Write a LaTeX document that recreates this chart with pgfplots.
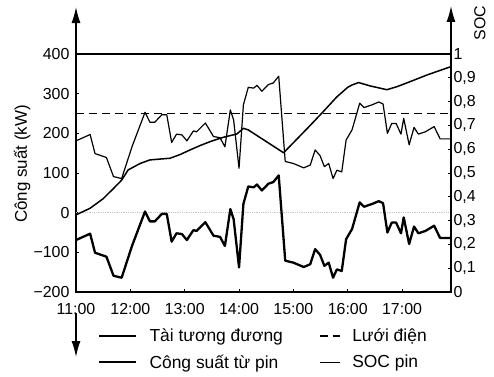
\documentclass[border=0pt]{standalone}
\usepackage{pgfplots}
\pgfplotsset{compat=1.18}
\usepackage{pgfplotstable}
\usepackage{fontspec}
\setmainfont{Liberation Sans}
\usetikzlibrary{arrows.meta}

% time (h), battery power (kW), equivalent load (kW)
\pgfplotstableread{
t      bat   load
11.00  -69   181
11.26  -53   197
11.35  -101  149
11.56  -111  139
11.69  -159  91
11.84  -164  86
12.03  -84   166
12.27  3     253
12.36  -22   228
12.45  -22   228
12.58  -3    247
12.67  -3    247
12.76  -73   177
12.85  -52   198
12.95  -54   196
13.04  -69   181
13.16  -44   206
13.22  -46   204
13.38  -24   226
13.53  -58   192
13.65  -61   189
13.74  -84   166
13.84  9     259
13.90  -16   234
14.00  -138  112
14.08  22    272
14.17  66    316
14.27  64    314
14.33  71    321
14.42  56    306
14.54  73    323
14.63  77    327
14.73  94    344
14.85  -121  129
15.00  -126  124
15.19  -137  113
15.31  -130  120
15.40  -92   158
15.49  -106  144
15.57  -134  116
15.65  -126  124
15.73  -164  86
15.80  -143  107
15.89  -147  103
15.97  -67   183
16.08  -41   209
16.22  26    276
16.30  15    265
16.45  22    272
16.57  29    279
16.65  24    274
16.73  -50   200
16.81  -25   225
16.89  -25   225
16.98  -52   198
17.03  -12   238
17.13  -79   171
17.22  -35   215
17.30  -52   198
17.43  -46   204
17.59  -33   217
17.70  -64   186
17.90  -64   186
}\powertab

% time (h), battery state of charge
\pgfplotstableread{
t      soc
11.00  0.324
11.26  0.352
11.50  0.392
11.69  0.435
11.84  0.470
11.96  0.513
12.18  0.540
12.36  0.555
12.73  0.562
12.92  0.578
13.10  0.597
13.28  0.615
13.47  0.632
13.71  0.650
13.96  0.664
14.08  0.688
14.17  0.681
14.82  0.585
15.31  0.700
15.55  0.758
15.80  0.820
16.00  0.860
16.08  0.870
16.20  0.880
16.41  0.866
16.72  0.850
16.91  0.863
17.15  0.884
17.46  0.912
17.90  0.947
}\soctab

\pgfplotsset{
  frame/.style={
    at={(0,0)}, anchor=south west,
    scale only axis, width=375bp, height=238bp,
    xmin=11, xmax=17.9,
    clip=false,
    tick align=inside, major tick length=3bp,
    axis line style={line width=1.3bp},
    tick style={line width=0.8bp, black},
    ticklabel style={font=\fontsize{16}{16}\selectfont},
  },
  longimg/.style={legend image code/.code={\draw[##1] (0bp,0bp) -- (37bp,0bp);}},
  shortimg/.style={legend image code/.code={\draw[##1] (0bp,0bp) -- (20bp,0bp);}},
}

\begin{document}
\begin{tikzpicture}
\path[use as bounding box] (-76bp,-85bp) rectangle (418bp,292bp);

\begin{axis}[
  frame,
  ymin=-200, ymax=400,
  xtick={11,12,...,17},
  xticklabels={11:00,12:00,13:00,14:00,15:00,16:00,17:00},
  ytick={-200,-100,0,100,200,300,400},
  yticklabels={−200,−100,0,100,200,300,400},
  xtick pos=bottom, ytick pos=left,
  xticklabel style={yshift=-8bp},
  yticklabel style={xshift=-3bp},
  legend columns=2,
  legend cell align=left,
  legend style={
    draw=none, fill=none,
    at={(rel axis cs:0.0587,-0.154)}, anchor=north west,
    font=\fontsize{17.5}{17.5}\selectfont,
    inner sep=0pt, row sep=11.5bp,
    nodes={inner sep=0pt},
    /tikz/every odd column/.style={column sep=12bp},
    /tikz/every even column/.style={column sep=36bp},
  },
]
  % faint zero reference
  \addplot[forget plot, gray!45, densely dotted, line width=0.8bp]
    coordinates {(11,0) (17.9,0)};

  \addplot[black, line width=1.2bp, line join=round, longimg]
    table[x=t, y=load] {\powertab};
  \addlegendentry{Tài tương đương}

  \addplot[black, line width=1.3bp, dash pattern=on 8bp off 5bp, shortimg]
    coordinates {(11,250) (17.9,250)};
  \addlegendentry{Lưới điện}

  \addplot[black, line width=2.3bp, line join=round, longimg]
    table[x=t, y=bat] {\powertab};
  \addlegendentry{Công suất từ pin}

  \addlegendimage{black, line width=1.2bp, shortimg}
  \addlegendentry{SOC pin}

  % axis arrows
  \draw[line width=1.3bp, -{Latex[length=16bp, width=9bp]}]
    (rel axis cs:0,1) -- ([yshift=47bp]rel axis cs:0,1);
  \draw[line width=1.3bp, -{Latex[length=16bp, width=9bp]}]
    ([yshift=-21bp]rel axis cs:0,0) -- ([yshift=-65bp]rel axis cs:0,0);

  \node[rotate=90, font=\fontsize{17}{17}\selectfont]
    at ([xshift=-54bp]rel axis cs:0,0.538) {Công suất (kW)};
\end{axis}

\begin{axis}[
  frame,
  ymin=0, ymax=1,
  axis x line=none, axis y line*=right,
  ytick={0,0.1,0.2,0.3,0.4,0.5,0.6,0.7,0.8,0.9,1},
  yticklabels={0,{0,1},{0,2},{0,3},{0,4},{0,5},{0,6},{0,7},{0,8},{0,9},1},
  ytick pos=right,
  yticklabel style={xshift=-1bp},
]
  \addplot[black, line width=1.5bp, line join=round]
    table[x=t, y=soc] {\soctab};

  \draw[line width=1.3bp, -{Latex[length=16bp, width=9bp]}]
    (rel axis cs:1,1) -- ([yshift=48bp]rel axis cs:1,1);
  \node[rotate=90, font=\fontsize{16}{16}\selectfont]
    at ([xshift=29bp, yshift=31bp]rel axis cs:1,1) {SOC};
\end{axis}
\end{tikzpicture}
\end{document}
